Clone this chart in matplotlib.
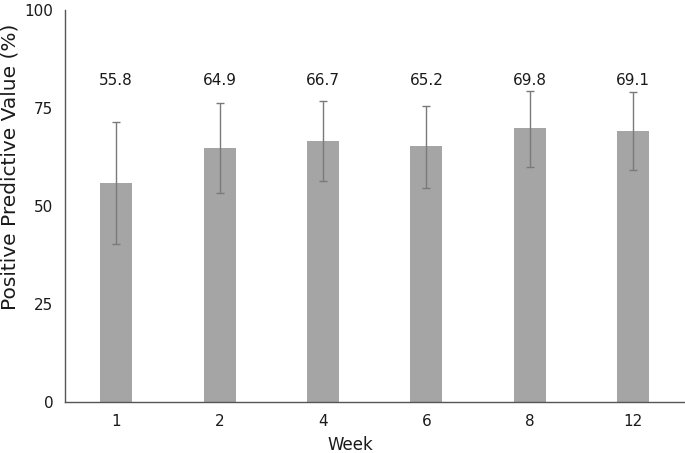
import matplotlib.pyplot as plt
import numpy as np

# --- data ---
weeks = ['1', '2', '4', '6', '8', '12']
ppv = [55.8, 64.9, 66.7, 65.2, 69.8, 69.1]
ci_low = [40.2, 53.3, 56.5, 54.7, 60.0, 59.2]
ci_high = [71.5, 76.2, 76.8, 75.6, 79.4, 79.0]

plt.rcParams['font.family'] = 'DejaVu Sans'
plt.rcParams['font.size'] = 11

fig = plt.figure(figsize=(6.85, 4.53), dpi=100)
ax = fig.add_axes([64.5 / 685, 1 - 402 / 453, 620.5 / 685, 392 / 453])

x = np.arange(len(weeks))
ppv_arr = np.array(ppv)
yerr = np.vstack([ppv_arr - np.array(ci_low), np.array(ci_high) - ppv_arr])

ax.bar(x, ppv_arr, width=0.31, color='#a5a5a5', zorder=2)
ax.errorbar(x, ppv_arr, yerr=yerr, fmt='none', ecolor='#7a7a7a',
            elinewidth=1.0, capsize=3, capthick=1.0, zorder=3)

# value labels above bars
for xi, v in zip(x, ppv):
    ax.text(xi, 82, f'{v:.1f}', ha='center', va='center', fontsize=11, color='#1a1a1a')

ax.set_xlim(-0.5, len(weeks) - 0.5)
ax.set_ylim(0, 100)
ax.set_xticks(x)
ax.set_xticklabels(weeks)
ax.set_yticks([0, 25, 50, 75, 100])
ax.tick_params(axis='both', length=0, labelsize=11, colors='#1a1a1a')
ax.tick_params(axis='y', pad=8)
ax.tick_params(axis='x', pad=9)

for s in ['top', 'right']:
    ax.spines[s].set_visible(False)
for s in ['left', 'bottom']:
    ax.spines[s].set_color('#555555')
    ax.spines[s].set_linewidth(1.0)

# axis titles (placed as in the reference, slightly off-centre)
fig.text(350 / 685, 1 - 445 / 453, 'Week', ha='center', va='center',
         fontsize=12, color='#1a1a1a')
fig.text(10 / 685, 1 - 167 / 453, 'Positive Predictive Value (%)', ha='center',
         va='center', rotation=90, fontsize=14.5, color='#1a1a1a')

fig.savefig('out.png', dpi=100)
